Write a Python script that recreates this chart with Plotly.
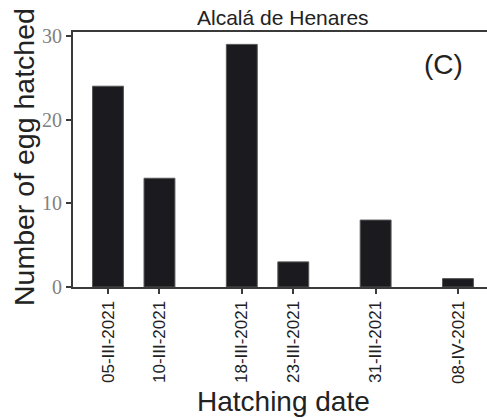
import plotly.graph_objects as go

dates = ["2021-03-05", "2021-03-10", "2021-03-18", "2021-03-23", "2021-03-31", "2021-04-08"]
tick_labels = ["05-III-2021", "10-III-2021", "18-III-2021", "23-III-2021", "31-III-2021", "08-IV-2021"]
eggs = [24, 13, 29, 3, 8, 1]
y_ticks = [0, 10, 20, 30]

DAY_MS = 86400000
W, H = 487, 418
L, R, T, B = 73, 0, 32, 131
PW, PH = W - L - R, H - T - B


def px_x(x):
    return (x - L) / PW


def px_y(y):
    return 1 - (y - T) / PH


fig = go.Figure()
fig.add_trace(go.Bar(
    x=dates, y=eggs, width=[3 * DAY_MS] * len(dates),
    marker=dict(color="#1b1a1e", line=dict(color="#555555", width=1)),
))

axis_line = dict(showline=True, linecolor="#3a3a3a", linewidth=2,
                 ticks="outside", ticklen=5, tickwidth=1.5, tickcolor="#3a3a3a",
                 showgrid=False, zeroline=False, automargin=False)

txt = dict(family="Liberation Sans", color="#222222")

fig.update_layout(
    width=W, height=H,
    margin=dict(l=L, r=R, t=T, b=B, pad=0),
    paper_bgcolor="white", plot_bgcolor="white",
    showlegend=False,
    xaxis=dict(type="date", range=["2021-03-01 14:24", "2021-04-10 19:40"],
               tickvals=dates, ticktext=tick_labels, tickangle=-90,
               tickfont=dict(family="Liberation Sans", size=17, color="#222222"),
               mirror=True, **axis_line),
    yaxis=dict(range=[0, 30.48], tickvals=y_ticks,
               tickfont=dict(family="Liberation Serif", size=20, color="#808080"),
               **axis_line),
    annotations=[
        dict(text="Alcalá de Henares", xref="paper", yref="paper",
             x=px_x(283), y=px_y(18), xanchor="center", yanchor="middle",
             showarrow=False, font=dict(size=21, **txt)),
        dict(text="(C)", xref="paper", yref="paper",
             x=px_x(443), y=px_y(64), xanchor="center", yanchor="middle",
             showarrow=False, font=dict(size=28, **txt)),
        dict(text="Hatching date", xref="paper", yref="paper",
             x=px_x(283), y=px_y(401), xanchor="center", yanchor="middle",
             showarrow=False, font=dict(size=28, **txt)),
        dict(text="Number of egg hatched", xref="paper", yref="paper", textangle=-90,
             x=px_x(24), y=px_y(157), xanchor="center", yanchor="middle",
             showarrow=False, font=dict(size=28.5, **txt)),
    ],
)

fig.write_html("out.html", post_script="document.body.style.margin='0';",
               config={"displayModeBar": False})
